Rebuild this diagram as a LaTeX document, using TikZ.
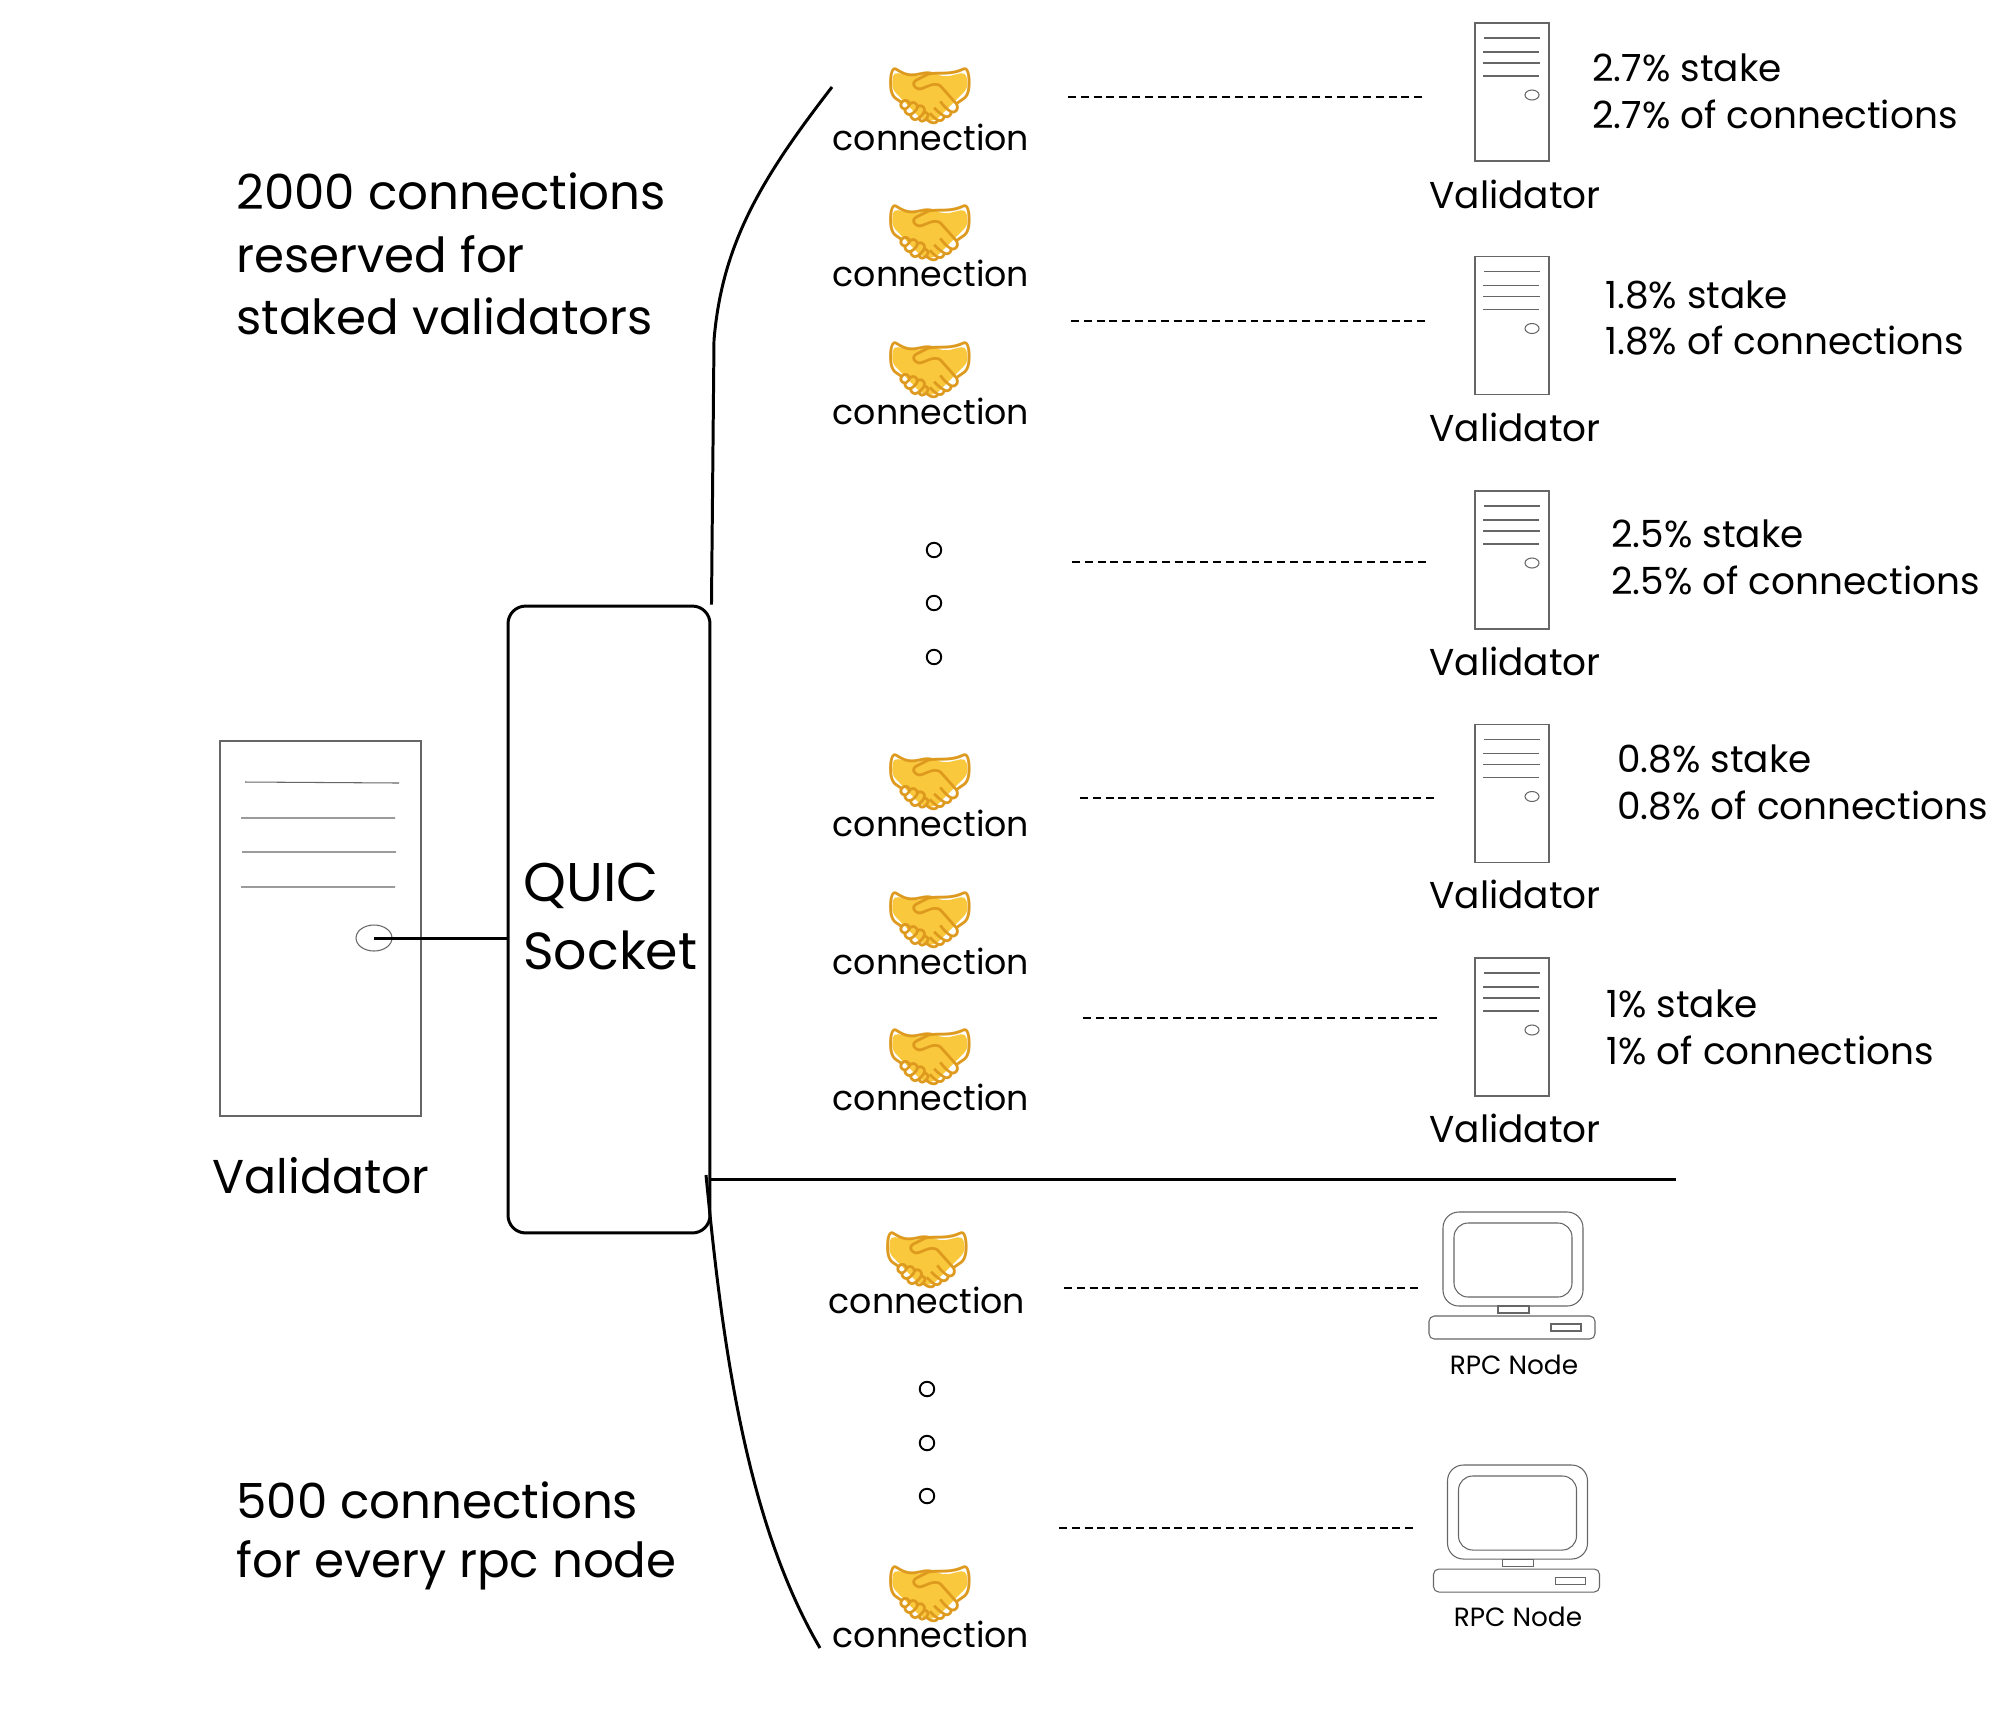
\documentclass[tikz,border=0pt]{standalone}
\usepackage{fontspec}
\usetikzlibrary{shapes.geometric}
\setmainfont{Poppins}
\newfontfamily\emojifont{Noto Emoji}
\definecolor{shakecol}{HTML}{DE9A1E}
\definecolor{shakefill}{HTML}{F9C83C}
\definecolor{sketchcol}{HTML}{666666}
\begin{document}
\begin{tikzpicture}[x=0.02cm, y=-0.02cm,
    wire/.style={draw=black, line width=1.7pt},
    dashwire/.style={draw=black, line width=1.4pt, dash pattern=on 4.5pt off 2.8pt},
    sketch/.style={draw=sketchcol, line width=0.6pt},
    dot/.style={circle, draw=black, line width=1.1pt, inner sep=0pt, minimum size=0.29cm},
    shake/.style={inner sep=0pt, text=shakecol, font=\emojifont\fontsize{42}{42}\selectfont},
    handfill/.pic={\fill[shakefill, rounded corners=3pt] (-37,-24)--(-15,-19)--(0,-24)--(15,-19)--(36,-24)--(38,-8)--(5,25)--(-8,24)--(-38,-7)--cycle;},
    conn/.style={inner sep=0pt, font=\fontsize{19.8}{19.8}\selectfont},
    vname/.style={inner sep=0pt, font=\fontsize{21.3}{21.3}\selectfont},
    share/.style={inner sep=0pt, anchor=west, font=\fontsize{21.3}{21.3}\selectfont},
    note/.style={inner sep=0pt, anchor=west, font=\fontsize{27.5}{27.5}\selectfont}]
    \useasboundingbox (0,0) rectangle (2000,1711);
    % Local validator
    \draw[sketch] (220,741) rectangle (421,1116);
    \draw[sketch] (245,782)--(399,783) (241,818)--(395,818) (242,852)--(396,852) (241,887)--(395,887);
    \node[draw=sketchcol, line width=0.6pt, ellipse, inner sep=0pt, minimum width=0.72cm, minimum height=0.52cm] (btn) at (374,938) {};
    \node[vname, font=\fontsize{27}{27}\selectfont] (vlocal) at (321,1176) {Validator};
    % Socket
    \node[wire, rounded corners=10pt, minimum width=4.04cm, minimum height=12.54cm] (sock) at (609,919.5) {};
    \node[note, font=\fontsize{31}{31}\selectfont] (quic) at (523,886) {QUIC};
    \node[note, font=\fontsize{29.7}{29.7}\selectfont] (sockname) at (523,950) {Socket};
    \draw[wire] (btn.center)--(btn.center -| sock.west);
    % Curves and divider
    \coordinate (topend) at (832,87);
    \coordinate (lowstart) at (706,1175);
    \coordinate (lowend) at (820,1648);
    \coordinate (rulestart) at (710,1179);
    \coordinate (ruleend) at (1676,1179);
    \draw[wire] (topend) .. controls (760,180) and (722,245) .. (714,340) -- (sock.north east);
    \draw[wire] (lowstart) .. controls (722,1340) and (745,1520) .. (lowend);
    \draw[wire] (rulestart)--(ruleend);
    % Left notes
    \node[note] (n1) at (236,191) {2000 connections};
    \node[note] (n2) at (236,254) {reserved for};
    \node[note] (n3) at (236,316) {staked validators};
    \node[note] (n4) at (236,1500) {500 connections};
    \node[note] (n5) at (236,1565) {for every rpc node};
    % Connections, staked
    \pic at (930,96) {handfill};
    \node[shake] (s1) at (930,96)  {🤝};
    \node[conn]  (c1) at (931,137) {connection};
    \pic at (930,233) {handfill};
    \node[shake] (s2) at (930,233) {🤝};
    \node[conn]  (c2) at (931,273) {connection};
    \pic at (930,370) {handfill};
    \node[shake] (s3) at (930,370) {🤝};
    \node[conn]  (c3) at (931,411) {connection};
    \node[dot] (d1) at (934,550) {};
    \node[dot] (d2) at (934,603) {};
    \node[dot] (d3) at (934,657) {};
    \pic at (930,782) {handfill};
    \node[shake] (s4) at (930,782)  {🤝};
    \node[conn]  (c4) at (931,823)  {connection};
    \pic at (930,920) {handfill};
    \node[shake] (s5) at (930,920)  {🤝};
    \node[conn]  (c5) at (931,961)  {connection};
    \pic at (930,1057) {handfill};
    \node[shake] (s6) at (930,1057) {🤝};
    \node[conn]  (c6) at (931,1097) {connection};
    % Connections, rpc
    \pic at (927,1260) {handfill};
    \node[shake] (s7) at (927,1260) {🤝};
    \node[conn]  (c7) at (927,1300) {connection};
    \node[dot] (d4) at (927,1389) {};
    \node[dot] (d5) at (927,1443) {};
    \node[dot] (d6) at (927,1496) {};
    \pic at (930,1594) {handfill};
    \node[shake] (s8) at (930,1594) {🤝};
    \node[conn]  (c8) at (931,1634) {connection};
    % Dashed links
    \coordinate (a1) at (1068,97);   \coordinate (b1) at (1422.4,97);
    \coordinate (a2) at (1071,321);  \coordinate (b2) at (1425.4,321);
    \coordinate (a3) at (1072,562);  \coordinate (b3) at (1426.4,562);
    \coordinate (a4) at (1080,798);  \coordinate (b4) at (1434.4,798);
    \coordinate (a5) at (1083,1018); \coordinate (b5) at (1437.4,1018);
    \coordinate (a6) at (1064,1288); \coordinate (b6) at (1418.4,1288);
    \coordinate (a7) at (1059,1528); \coordinate (b7) at (1413.4,1528);
    \draw[dashwire] (a1)--(b1) (a2)--(b2) (a3)--(b3) (a4)--(b4) (a5)--(b5) (a6)--(b6) (a7)--(b7);
    % Staked validators
    \begin{scope}[shift={(0,0)}]
      \draw[sketch] (1475,23) rectangle (1549,161);
      \draw[sketch] (1484,38)--(1540,38) (1483,52)--(1539,52) (1483,63)--(1540,63) (1483,76)--(1539,76);
      \draw[sketch] (1532,95) ellipse (7 and 5);
    \end{scope}
    \begin{scope}[shift={(0,233.5)}]
      \draw[sketch] (1475,23) rectangle (1549,161);
      \draw[sketch] (1484,38)--(1540,38) (1483,52)--(1539,52) (1483,63)--(1540,63) (1483,76)--(1539,76);
      \draw[sketch] (1532,95) ellipse (7 and 5);
    \end{scope}
    \begin{scope}[shift={(0,468)}]
      \draw[sketch] (1475,23) rectangle (1549,161);
      \draw[sketch] (1484,38)--(1540,38) (1483,52)--(1539,52) (1483,63)--(1540,63) (1483,76)--(1539,76);
      \draw[sketch] (1532,95) ellipse (7 and 5);
    \end{scope}
    \begin{scope}[shift={(0,701.5)}]
      \draw[sketch] (1475,23) rectangle (1549,161);
      \draw[sketch] (1484,38)--(1540,38) (1483,52)--(1539,52) (1483,63)--(1540,63) (1483,76)--(1539,76);
      \draw[sketch] (1532,95) ellipse (7 and 5);
    \end{scope}
    \begin{scope}[shift={(0,935)}]
      \draw[sketch] (1475,23) rectangle (1549,161);
      \draw[sketch] (1484,38)--(1540,38) (1483,52)--(1539,52) (1483,63)--(1540,63) (1483,76)--(1539,76);
      \draw[sketch] (1532,95) ellipse (7 and 5);
    \end{scope}
    \node[vname] (v1) at (1515,194)  {Validator};
    \node[vname] (v2) at (1515,427)  {Validator};
    \node[vname] (v3) at (1515,661)  {Validator};
    \node[vname] (v4) at (1515,894)  {Validator};
    \node[vname] (v5) at (1515,1128) {Validator};
    % Shares
    \node[share] (p1) at (1592,68)   {2.7\% stake};
    \node[share] (q1) at (1592,114)  {2.7\% of connections};
    \node[share] (p2) at (1605,295)  {1.8\% stake};
    \node[share] (q2) at (1605,341)  {1.8\% of connections};
    \node[share] (p3) at (1611,534)  {2.5\% stake};
    \node[share] (q3) at (1611,580)  {2.5\% of connections};
    \node[share] (p4) at (1617,759)  {0.8\% stake};
    \node[share] (q4) at (1617,806)  {0.8\% of connections};
    \node[share] (p5) at (1606,1004) {1\% stake};
    \node[share] (q5) at (1606,1050) {1\% of connections};
    % RPC nodes
    \begin{scope}[shift={(0,0)}]
      \draw[sketch, rounded corners=9pt] (1443,1212) rectangle (1583,1306);
      \draw[sketch, rounded corners=8pt] (1454,1223) rectangle (1572,1297);
      \draw[sketch] (1498,1306) rectangle (1529,1313);
      \draw[sketch, rounded corners=3pt] (1429,1316) rectangle (1595,1339);
      \draw[sketch] (1551,1324) rectangle (1581,1331);
    \end{scope}
    \begin{scope}[shift={(4.5,253)}]
      \draw[sketch, rounded corners=9pt] (1443,1212) rectangle (1583,1306);
      \draw[sketch, rounded corners=8pt] (1454,1223) rectangle (1572,1297);
      \draw[sketch] (1498,1306) rectangle (1529,1313);
      \draw[sketch, rounded corners=3pt] (1429,1316) rectangle (1595,1339);
      \draw[sketch] (1551,1324) rectangle (1581,1331);
    \end{scope}
    \node[vname, font=\fontsize{15}{15}\selectfont] (r1) at (1514,1365) {RPC Node};
    \node[vname, font=\fontsize{15}{15}\selectfont] (r2) at (1518,1617) {RPC Node};
\end{tikzpicture}
\end{document}
